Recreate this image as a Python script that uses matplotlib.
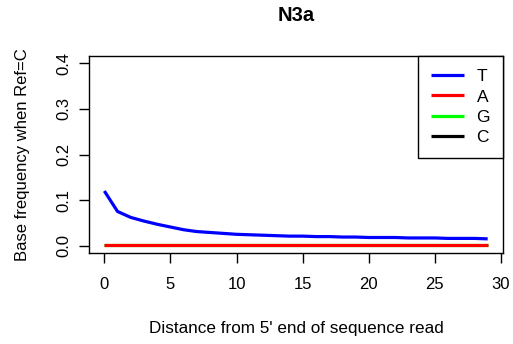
import matplotlib
matplotlib.use("Agg")
import matplotlib.pyplot as plt

plt.rcParams['font.family'] = ['Liberation Sans', 'DejaVu Sans']

positions = list(range(30))
freq_T = [0.120, 0.075, 0.062, 0.054, 0.047, 0.041, 0.035, 0.031, 0.029, 0.027,
          0.025, 0.024, 0.023, 0.022, 0.021, 0.021, 0.020, 0.020, 0.019, 0.019,
          0.018, 0.018, 0.018, 0.017, 0.017, 0.017, 0.016, 0.016, 0.016, 0.015]
freq_A = [0.002, 0.002, 0.002, 0.002, 0.002, 0.002, 0.002, 0.002, 0.002, 0.002,
          0.002, 0.002, 0.002, 0.002, 0.002, 0.002, 0.002, 0.002, 0.002, 0.002,
          0.002, 0.002, 0.002, 0.002, 0.002, 0.002, 0.002, 0.002, 0.002, 0.002]
freq_G = [0.001, 0.001, 0.001, 0.001, 0.001, 0.001, 0.001, 0.001, 0.001, 0.001,
          0.001, 0.001, 0.001, 0.001, 0.001, 0.001, 0.001, 0.001, 0.001, 0.001,
          0.001, 0.001, 0.001, 0.001, 0.001, 0.001, 0.001, 0.001, 0.001, 0.001]
freq_C = [0.877, 0.922, 0.935, 0.943, 0.950, 0.956, 0.962, 0.966, 0.968, 0.970,
          0.972, 0.973, 0.974, 0.975, 0.976, 0.976, 0.977, 0.977, 0.978, 0.978,
          0.979, 0.979, 0.979, 0.980, 0.980, 0.980, 0.981, 0.981, 0.981, 0.982]
labels = ['T', 'A', 'G', 'C']
colors = ['#0000FF', '#FF0000', '#00FF00', '#000000']
x_ticks = [0, 5, 10, 15, 20, 25, 30]
y_ticks = [0.0, 0.1, 0.2, 0.3, 0.4]

fig = plt.figure(figsize=(5.13, 3.44), dpi=100)
ax = fig.add_axes([89/513, 1-253/344, (503-89)/513, (253-56)/344])

series = [freq_T, freq_A, freq_G, freq_C]
zorders = [4, 3, 2, 1]
for vals, lab, col, z in zip(series, labels, colors, zorders):
    ax.plot(positions, vals, color=col, lw=2.3, label=lab, zorder=z,
            solid_capstyle='butt')

ax.set_xlim(-1.16, 30.16)
ax.set_ylim(-0.016, 0.416)
ax.set_xticks(x_ticks)
ax.set_xticklabels([str(t) for t in x_ticks])
ax.set_yticks(y_ticks)
ax.set_yticklabels([f"{t:.1f}" for t in y_ticks], rotation=90, va='center')
ax.tick_params(axis='both', length=7, width=1, labelsize=12, color='black')
ax.tick_params(axis='x', pad=10)
ax.tick_params(axis='y', pad=6)
for s in ax.spines.values():
    s.set_linewidth(1)
    s.set_color('black')

ax.set_title('N3a', fontsize=14.5, fontweight='bold', pad=25)
ax.set_xlabel("Distance from 5' end of sequence read", fontsize=12.3, labelpad=21)
ax.set_ylabel('Base frequency when Ref=C', fontsize=12, labelpad=19)

leg = ax.legend(loc='upper right', bbox_to_anchor=(1, 1), borderaxespad=0,
                fancybox=False, framealpha=1, edgecolor='black', fontsize=12.5,
                handlelength=1.9, handletextpad=0.7, labelspacing=0.3,
                borderpad=0.75)
leg.get_frame().set_linewidth(1)
leg.set_zorder(10)

fig.savefig('out.png', dpi=100)
